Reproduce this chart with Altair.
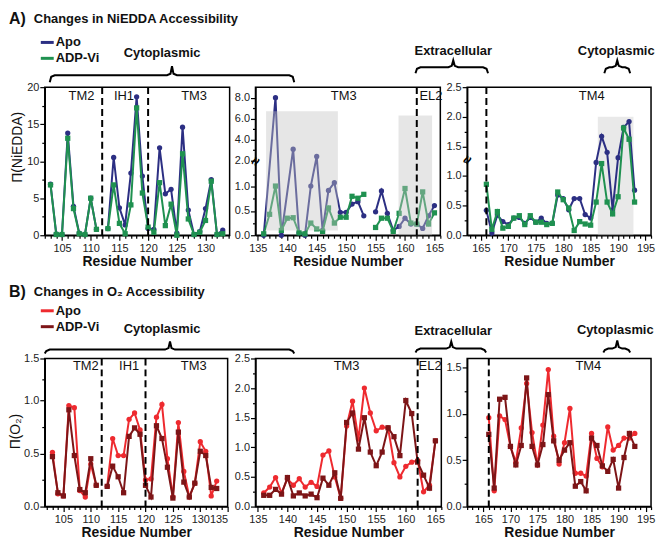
import math
import altair as alt
import pandas as pd

FONT = "Liberation Sans"
APO_TOP, ADP_TOP = "#2c2f83", "#1f9150"
APO_BOT, ADP_BOT = "#ee2a2f", "#7d1517"
SERIES = ["Apo", "ADP-Vi"]

# ---------------- A) NiEDDA accessibility ----------------
nie1_res = list(range(103, 134))
nie1_apo = [6.9, 0.2, 0.1, 13.8, 3.9, 0.3, 0.1, 5.0, 0.8, None, 0.9, 10.5, 3.7, 1.4, 8.4,
            18.7, 8.0, 0.9, 0.8, 11.8, 5.6, 6.2, 0.3, 14.6, 3.4, 0.1, 0.5, 3.6, 7.5, 0.1, 0.7]
nie1_adp = [6.8, 0.1, 0.1, 13.1, 3.6, 0.2, 0.1, 5.0, 0.8, None, 0.9, 6.8, 1.6, 0.2, 4.1,
            17.2, 5.7, 1.1, 0.4, 7.1, 1.3, 4.2, 0.0, 11.0, 2.2, 0.1, 0.4, 2.0, 7.3, 0.1, 0.2]

nie2_apo_res = [136, 138, 139, 141, 142, 143, 144, 145, 146, 147, 148, 149, 150, 151, 152,
                153, 154, 155, 156, 157, 158, 159, 160, 161, 162, 163, 164, 165]
nie2_apo = [0.0, 8.0, 0.0, 3.1, 0.05, 0.0, 1.01, 2.4, 0.1, 0.92, 1.08, 0.47, 0.47, 0.64, 0.69,
            0.4, None, 0.48, 0.91, 0.45, 0.1, 0.18, 0.35, 0.23, 0.23, 0.14, 0.4, 0.61]
nie2_adp_res = list(range(136, 166))
nie2_adp = [0.03, 0.43, 1.01, 0.1, 0.35, 0.36, 0.05, 0.03, 0.25, 0.13, 0.08, 0.56, 0.25, 0.37, 0.37,
            0.8, 0.76, 0.84, None, 0.16, 0.35, 0.35, 0.08, 0.45, 0.96, 0.25, 0.23, 0.89, 0.23, 0.46]

nie3_res = list(range(166, 194))
nie3_apo = [0.42, 0.04, 0.34, 0.23, 0.18, 0.29, 0.3, 0.2, 0.3, 0.22, 0.29, 0.2, 0.2, 0.68,
            0.62, 0.43, 0.62, 0.62, 0.35, 0.29, 1.23, 1.67, 1.4, 0.43, 1.31, 1.82, 1.92, 0.76]
nie3_adp = [0.86, 0.1, 0.4, 0.12, 0.15, 0.29, 0.33, 0.18, 0.33, 0.22, 0.22, 0.18, 0.2, 0.73,
            0.6, 0.46, 0.08, 0.23, 0.19, 0.17, 0.56, 1.21, 0.56, 0.36, 0.65, 1.81, 1.62, 0.56]

# ---------------- B) O2 accessibility ----------------
o2_1_res = list(range(103, 134))
o2_1_apo = [0.51, 0.12, 0.1, 0.95, 0.93, 0.15, 0.09, 0.4, 0.2, None, 0.19, 0.64, 0.48, 0.48, 0.82,
            0.88, 0.72, 0.25, 0.26, 0.84, 0.96, 0.45, 0.09, 0.79, 0.33, 0.09, 0.22, 0.61, 0.52, 0.1, 0.24]
o2_1_adp = [0.47, 0.13, 0.1, 0.91, 0.48, 0.16, 0.13, 0.45, 0.2, None, 0.19, 0.38, 0.28, 0.13, 0.66,
            0.74, 0.68, 0.2, 0.09, 0.76, 0.64, 0.37, 0.08, 0.7, 0.23, 0.09, 0.22, 0.52, 0.48, 0.18, 0.17]

o2_2_res = list(range(136, 166))
o2_2_apo = [0.23, 0.33, 0.49, 0.23, 0.47, 0.36, 0.47, 0.33, 0.41, 0.34, 0.87, 0.94, 0.5, 0.14, 1.36,
            1.78, 1.14, 2.0, 1.58, 1.28, 1.34, 1.33, 0.74, 0.5, 0.68, 0.75, 0.78, 0.25, 0.36, 1.11]
o2_2_adp = [0.19, 0.19, 0.29, 0.21, 0.49, 0.18, 0.23, 0.18, 0.21, 0.15, 0.48, 0.36, 0.57, 0.14, 1.42,
            1.58, 0.97, 1.5, 0.92, 0.69, 0.92, 1.33, 1.18, 0.86, 1.79, 1.57, 0.75, 0.53, 0.31, 1.11]

o2_3_res = list(range(166, 194))
o2_3_apo = [0.96, 0.17, 0.98, 0.94, 0.65, 0.48, 0.85, 1.33, 0.8, 0.45, 0.88, 1.48, 0.76, 0.46,
            0.69, 1.06, 0.36, 0.36, 0.33, 0.79, 0.52, 0.43, 0.86, 0.61, 0.66, 0.74, 0.74, 0.79]
o2_3_adp = [0.78, 0.2, 1.16, 1.18, 0.65, 0.45, 0.66, 1.39, 0.65, 0.45, 0.67, 1.21, 0.71, 0.5,
            0.61, 0.69, 0.22, 0.27, 0.17, 0.74, 0.66, 0.44, 0.38, 0.51, 0.2, 0.53, 0.79, 0.65]

# ---------------- annotations ----------------
segments_top = {"p1": [112, 120], "p2": [162], "p3": [166]}
labels_top = {"p1": (["TM2", "IH1", "TM3"], [108.4, 115.8, 128]),
              "p2": (["TM3", "EL2"], [149.6, 164.4]),
              "p3": (["TM4"], [185.2])}
labels_bot = {"p1": (["TM2", "IH1", "TM3"], [109.1, 117.0, 128.8]),
              "p2": (["TM3", "EL2"], [150, 164.1]),
              "p3": (["TM4"], [184.4])}
shade_p2 = {"residue": [136.4, 158.9], "residue2": [148.6, 164.6], "value": [0.1, 0.0], "value2": [6.7, 6.3]}
shade_p3 = {"residue": [186.3], "residue2": [192.8], "value": [0.0], "value2": [2.0]}

PLOT_LEFT = 44
ROW_A_TOP, ROW_B_TOP = 84, 357
HEIGHT = 149

hdr = {
    "A": dict(top=ROW_A_TOP, tag="A)", title="Changes in NiEDDA Accessibility", ty=15,
              colors=[APO_TOP, ADP_TOP], leg_y=[39, 55],
              reg_t=["Cytoplasmic", "Extracellular", "Cytoplasmic"], reg_x=[162, 455, 619], reg_y=[50, 48, 48],
              br_x0=[49, 417, 607], br_x1=[295, 490, 633], br_xm=[172, 455, 620],
              br_yf=[72, 64, 64], br_drop=[7, 6, 6], br_tip=[9, 7, 7]),
    "B": dict(top=ROW_B_TOP, tag="B)", title="Changes in O\u2082 Accessibility", ty=290,
              colors=[APO_BOT, ADP_BOT], leg_y=[309, 325],
              reg_t=["Cytoplasmic", "Extracellular", "Cytoplasmic"], reg_x=[162, 455, 618], reg_y=[327, 329, 328],
              br_x0=[44, 417, 606], br_x1=[295, 488, 633], br_xm=[170, 453, 620],
              br_yf=[348, 347, 347], br_drop=[4, 4, 4], br_tip=[8, 7, 8]),
}


def series_frame(res, vals, name):
    rows, seg = [], 0
    for r, v in zip(res, vals):
        if v is None:
            seg += 1
            continue
        rows.append({"residue": r, "value": v, "seg": f"{name}{seg}"})
    return pd.DataFrame(rows)


def x_enc(xdom):
    ticks = list(range(math.ceil(xdom[0]), math.floor(xdom[1]) + 1))
    return alt.X("residue:Q", scale=alt.Scale(domain=list(xdom), nice=False, zero=False),
                 axis=alt.Axis(values=ticks, labelOverlap=False,
                               labelExpr="datum.value % 5 === 0 ? datum.label : ''",
                               tickSize={"condition": {"test": "datum.value % 5 === 0", "value": 5}, "value": 3},
                               title="Residue Number"))


def y_enc(ydom, yrange, major, minor, fmt, title, title_x, title_y):
    vals = sorted(set(major + minor))
    arr = "[" + ",".join(repr(float(v)) for v in major) + "]"
    test = f"indexof({arr}, datum.value) >= 0"
    kw = dict(values=vals, labelOverlap=False, labelExpr=f"{test} ? format(datum.value, '{fmt}') : ''",
              tickSize={"condition": {"test": test, "value": 5}, "value": 3})
    if title:
        kw.update(title=title, titleX=title_x, titleY=title_y, titleAngle=270,
                  titleAlign="center", titleBaseline="middle")
    else:
        kw.update(title=None)
    sc = dict(domain=list(ydom), nice=False, zero=False)
    if yrange:
        sc["range"] = yrange
    return alt.Y("value:Q", scale=alt.Scale(**sc), axis=alt.Axis(**kw))


def header_layers(h):
    top = h["top"]
    px = lambda v: v - PLOT_LEFT
    py = lambda v: v - top
    X = lambda f: alt.X(f, scale=None, axis=None)
    Y = lambda f: alt.Y(f, scale=None, axis=None)
    out = []
    out.append(alt.Chart(pd.DataFrame({"px": [px(8)], "py": [py(h["ty"])], "t": [h["tag"]]}))
               .mark_text(align="left", baseline="middle", fontSize=16, fontWeight="bold", color="#111")
               .encode(x=X("px:Q"), y=Y("py:Q"), text="t:N"))
    out.append(alt.Chart(pd.DataFrame({"px": [px(33)], "py": [py(h["ty"])], "t": [h["title"]]}))
               .mark_text(align="left", baseline="middle", fontSize=13, fontWeight="bold", color="#111")
               .encode(x=X("px:Q"), y=Y("py:Q"), text="t:N"))
    leg = pd.DataFrame({"px": [px(40)] * 2, "px2": [px(53)] * 2, "py": [py(v) for v in h["leg_y"]],
                        "c": h["colors"], "t": SERIES, "tx": [px(55)] * 2})
    out.append(alt.Chart(leg).mark_rule(strokeWidth=3)
               .encode(x=X("px:Q"), x2="px2:Q", y=Y("py:Q"), color=alt.Color("c:N", scale=None, legend=None)))
    out.append(alt.Chart(leg).mark_text(align="left", baseline="middle", fontSize=13, fontWeight="bold", color="#111")
               .encode(x=X("tx:Q"), y=Y("py:Q"), text="t:N"))
    reg = pd.DataFrame({"px": [px(v) for v in h["reg_x"]], "py": [py(v) for v in h["reg_y"]], "t": h["reg_t"]})
    out.append(alt.Chart(reg).mark_text(align="center", baseline="middle", fontSize=13, fontWeight="bold", color="#111")
               .encode(x=X("px:Q"), y=Y("py:Q"), text="t:N"))
    rows = []
    for b, (x0, x1, xm, yf, d, t) in enumerate(zip(h["br_x0"], h["br_x1"], h["br_xm"],
                                                  h["br_yf"], h["br_drop"], h["br_tip"])):
        pts = [(x0, yf + d), (x0 + 1.5, yf + 1.5), (x0 + 5, yf), (xm - 5, yf), (xm - 1.5, yf - 1.5),
               (xm, yf - t), (xm + 1.5, yf - 1.5), (xm + 5, yf), (x1 - 5, yf), (x1 - 1.5, yf + 1.5), (x1, yf + d)]
        for o, (a, c) in enumerate(pts):
            rows.append({"px": px(a), "py": py(c), "b": b, "o": o})
    out.append(alt.Chart(pd.DataFrame(rows)).mark_line(color="black", strokeWidth=2)
               .encode(x=X("px:Q"), y=Y("py:Q"), detail="b:N", order="o:Q"))
    return out


def panel(series, colors, xdom, ydom, yrange, major, minor, fmt, vlines, labels, label_y,
          shade=None, shade_on_top=False, breaks=None, title=None, title_x=-26, title_y=None,
          header=None, width=186):
    xe = x_enc(xdom)
    ye = y_enc(ydom, yrange, major, minor, fmt, title, title_x, title_y)
    layers = []
    rect = None
    if shade:
        rect = (alt.Chart(pd.DataFrame(shade))
                .mark_rect(color="#c4c4c4", opacity=0.42 if shade_on_top else 0.38)
                .encode(x=xe, x2="residue2:Q", y=ye, y2="value2:Q"))
        if not shade_on_top:
            layers.append(rect)
    for (res, vals, name), col, shp in zip(series, colors, ["circle", "square"]):
        df = series_frame(res, vals, name)
        layers.append(alt.Chart(df).mark_line(strokeWidth=2, color=col).encode(x=xe, y=ye, detail="seg:N"))
        layers.append(alt.Chart(df).mark_point(filled=True, size=28, opacity=1, shape=shp, color=col)
                      .encode(x=xe, y=ye))
    if shade and shade_on_top:
        layers.append(rect)
    layers.append(alt.Chart(pd.DataFrame({"residue": vlines}))
                  .mark_rule(strokeDash=[7, 4], strokeWidth=2, color="black").encode(x=xe))
    layers.append(alt.Chart(pd.DataFrame({"residue": labels[1], "t": labels[0]}))
                  .mark_text(fontSize=13, color="#111", baseline="middle")
                  .encode(x=xe, y=alt.value(label_y), text="t:N"))
    if breaks:
        layers.append(alt.Chart(pd.DataFrame({"value": breaks}))
                      .mark_text(text="\u2248", fontSize=15, fontWeight="bold", angle=300, color="black")
                      .encode(x=alt.value(0), y=ye))
    if header:
        layers += header_layers(header)
    return alt.layer(*layers).properties(width=width, height=HEIGHT)


pA1 = panel([(nie1_res, nie1_apo, "Apo"), (nie1_res, nie1_adp, "ADP")], [APO_TOP, ADP_TOP],
            (102, 134.2), (0, 20), None, [0, 5, 10, 15, 20], [2.5, 7.5, 12.5, 17.5], "d",
            segments_top["p1"], labels_top["p1"], 9, title="\u03a0(NiEDDA)", title_x=-27, title_y=60,
            header=hdr["A"], width=186)
pA2 = panel([(nie2_apo_res, nie2_apo, "Apo"), (nie2_adp_res, nie2_adp, "ADP")], [APO_TOP, ADP_TOP],
            (134.6, 166), (0, 1.5, 2, 9), [HEIGHT, 75.5, 74, 0], [0, 0.5, 1.0, 2.0, 4.0, 6.0, 8.0],
            [0.25, 0.75, 1.25, 3.0, 5.0, 7.0], ".1f", segments_top["p2"], labels_top["p2"], 9,
            shade=shade_p2, shade_on_top=True, breaks=[1.75], width=186)
pA3 = panel([(nie3_res, nie3_apo, "Apo"), (nie3_res, nie3_adp, "ADP")], [APO_TOP, ADP_TOP],
            (162.5, 196), (0, 2.5), None, [0, 0.5, 1.0, 1.5, 2.0, 2.5],
            [0.25, 0.75, 1.25, 1.75, 2.25], ".1f", segments_top["p3"], labels_top["p3"], 9,
            shade=shade_p3, shade_on_top=False, breaks=[1.27], width=185)

pB1 = panel([(o2_1_res, o2_1_apo, "Apo"), (o2_1_res, o2_1_adp, "ADP")], [APO_BOT, ADP_BOT],
            (101.6, 135), (0, 1.0, 1.5), [HEIGHT, 42, 0], [0, 0.5, 1.0, 1.5], [0.25, 0.75, 1.25], ".1f",
            [112, 120], labels_bot["p1"], 8, title="\u03a0(O\u2082)", title_x=-29, title_y=73,
            header=hdr["B"], width=184)
pB2 = panel([(o2_2_res, o2_2_apo, "Apo"), (o2_2_res, o2_2_adp, "ADP")], [APO_BOT, ADP_BOT],
            (134.6, 166), (0, 2.5), None, [0, 0.5, 1.0, 1.5, 2.0, 2.5], [0.25, 0.75, 1.25, 1.75, 2.25],
            ".1f", [162], labels_bot["p2"], 8, width=187)
pB3 = panel([(o2_3_res, o2_3_apo, "Apo"), (o2_3_res, o2_3_adp, "ADP")], [APO_BOT, ADP_BOT],
            (162, 196), (0, 1.6), None, [0, 0.5, 1.0, 1.5], [0.25, 0.75, 1.25], ".1f",
            [166], labels_bot["p3"], 8, width=185)

chart = (alt.concat(pA1, pA2, pA3, pB1, pB2, pB3, columns=3,
                    spacing={"row": ROW_B_TOP - ROW_A_TOP - HEIGHT, "column": 26}, bounds="flush")
         .properties(padding=0)
         .configure_view(stroke="black", strokeWidth=1.5)
         .configure_axis(domainColor="black", domainWidth=1.5, tickColor="black", tickWidth=1.2,
                         labelFont=FONT, labelFontSize=11, labelColor="#222",
                         titleFont=FONT, titleColor="#111", grid=False)
         .configure_axisX(titleFontWeight="bold", titleFontSize=14, titlePadding=1, labelPadding=2)
         .configure_axisY(titleFontWeight="normal", titleFontSize=14, labelPadding=1)
         .configure_text(font=FONT))

chart.save("out.html", embed_options={"renderer": "svg", "actions": False})
